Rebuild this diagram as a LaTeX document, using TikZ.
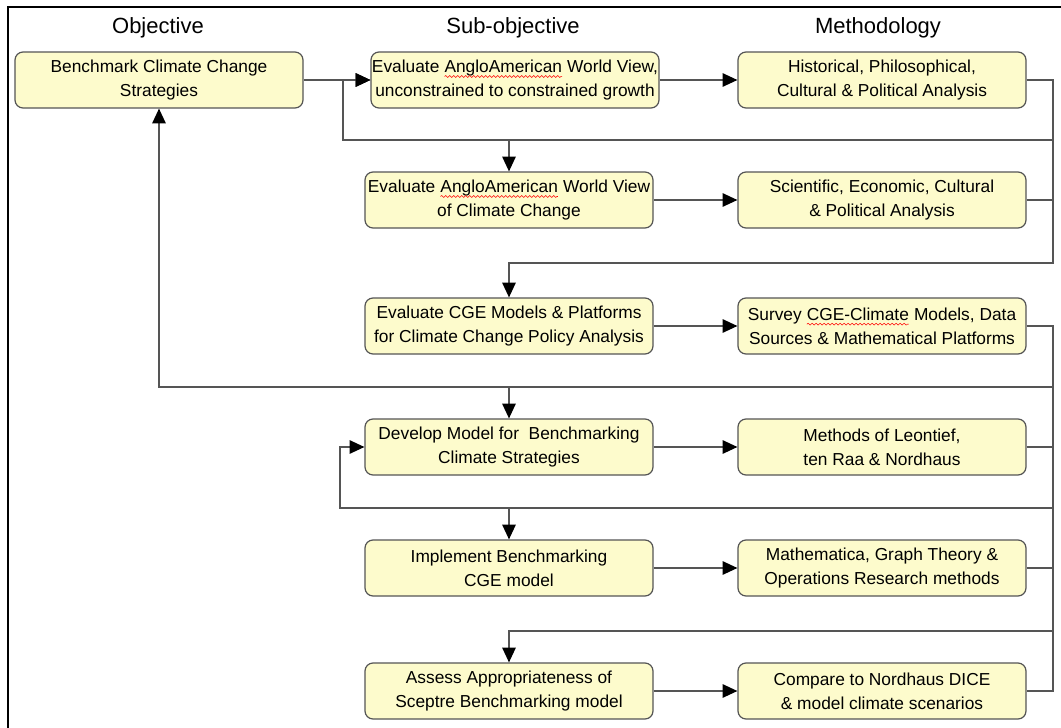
\documentclass[tikz,border=0pt]{standalone}
\usepackage{fontspec}
\setmainfont{Liberation Sans}
\usetikzlibrary{arrows.meta,decorations.pathmorphing}
\definecolor{boxfill}{RGB}{253,251,204}
\definecolor{linegray}{RGB}{85,85,85}
\newcommand\spellwave[1]{\tikz[x=1pt,y=1pt,baseline=(w.base),sharp corners]{%
  \node[draw=none,fill=none,inner sep=0pt,outer sep=0pt,minimum width=0pt,minimum height=0pt] (w) {#1};%
  \draw[red,line width=0.4pt,decorate,decoration={snake,amplitude=0.7pt,segment length=3pt}] ([yshift=-3pt]w.base west) -- ([yshift=-3pt]w.base east);}}
\begin{document}
\begin{tikzpicture}[x=0.75pt,y=-0.75pt,>={Triangle[length=11pt,width=10pt,color=black]},
  box/.style={draw=linegray,line width=0.9pt,fill=boxfill,rounded corners=6pt,align=center,
    minimum width=216pt,minimum height=42pt,inner xsep=0pt,font=\fontsize{13}{18}\selectfont},
  head/.style={anchor=base,font=\fontsize{16.5}{20}\selectfont},
  link/.style={draw=linegray,line width=1.1pt}]
\useasboundingbox (0,0) rectangle (1061,728);
\draw[line width=1.5pt] (8,728) -- (8,7) -- (1061,7);
\node[head] (hobj) at (158,33) {Objective};
\node[head] (hsub) at (513,33) {Sub-objective};
\node[head] (hmeth) at (878,33) {Methodology};
\node[box] (obj) at (159,80) {Benchmark Climate Change\\Strategies};
\node[box] (sub1) at (515,80) {Evaluate \spellwave{AngloAmerican} World View,\\unconstrained to constrained growth};
\node[box] (sub2) at (509,200) {Evaluate \spellwave{AngloAmerican} World View\\of Climate Change};
\node[box] (sub3) at (509,326) {Evaluate CGE Models \& Platforms\\for Climate Change Policy Analysis};
\node[box] (sub4) at (509,447) {Develop Model for~ Benchmarking\\Climate Strategies};
\node[box] (sub5) at (509,568) {Implement Benchmarking\\CGE model};
\node[box] (sub6) at (509,691) {Assess Appropriateness of\\Sceptre Benchmarking model};
\node[box] (meth1) at (882,80) {Historical, Philosophical,\\Cultural \& Political Analysis};
\node[box] (meth2) at (882,200) {Scientific, Economic, Cultural\\\& Political Analysis};
\node[box] (meth3) at (882,326) {Survey \spellwave{CGE-Climate} Models, Data\\Sources \& Mathematical Platforms};
\node[box] (meth4) at (882,447) {Methods of Leontief,\\ten Raa \& Nordhaus};
\node[box] (meth5) at (882,568) {Mathematica, Graph Theory \&\\Operations Research methods};
\node[box] (meth6) at (882,691) {Compare to Nordhaus DICE\\\& model climate scenarios};
\coordinate (r1) at (1053,140);
\coordinate (l1) at (343,140);
\coordinate (r2) at (1053,263);
\coordinate (r3) at (1053,387);
\coordinate (r4) at (1053,508);
\coordinate (l4) at (340,508);
\coordinate (r5) at (1053,631);
\draw[link,->] (obj) -- (sub1);
\foreach \n in {1,...,6}
  \draw[link,->] (sub\n) -- (meth\n);
\draw[link,->] (meth1.east) -| (r1) -- (l1) |- (sub1.west);
\draw[link] (meth2.east) -- (meth2.east -| r1);
\draw[link,->] (r1) -- (r2) -| (sub3.north);
\draw[link,->] (sub2.north |- r1) -- (sub2.north);
\draw[link] (meth3.east) -| (meth6.east -| r3) -- (meth6.east);
\draw[link] (meth4.east) -- (meth4.east -| r4);
\draw[link] (meth5.east) -- (meth5.east -| r5);
\draw[link,->] (r3) -| (obj.south);
\draw[link,->] (sub4.north |- r3) -- (sub4.north);
\draw[link,->] (r4) -- (l4) |- (sub4.west);
\draw[link,->] (sub5.north |- r4) -- (sub5.north);
\draw[link,->] (r5) -| (sub6.north);
\end{tikzpicture}
\end{document}
